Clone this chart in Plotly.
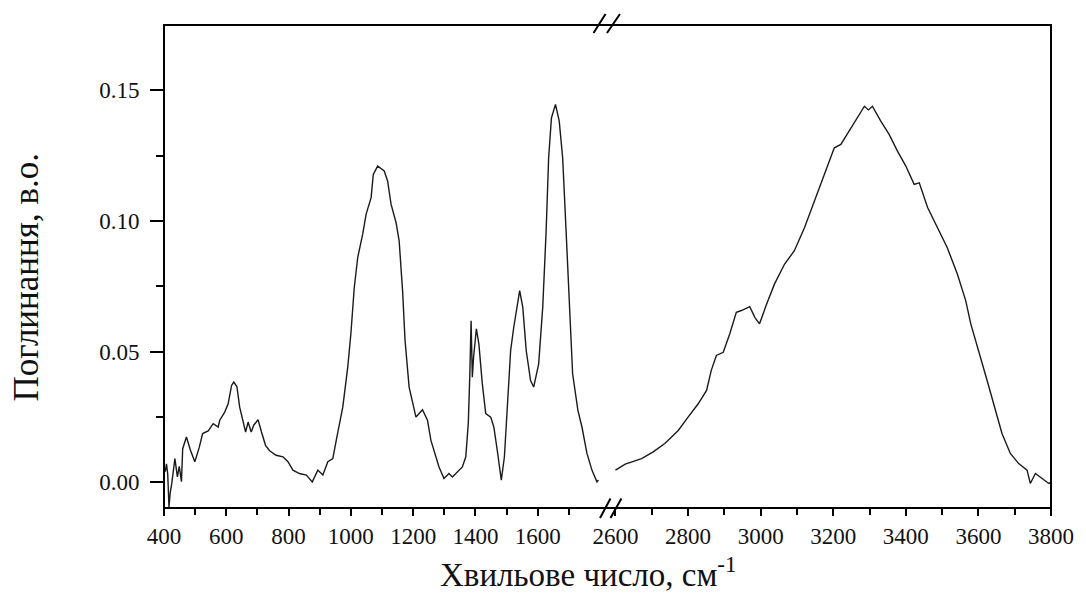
import plotly.graph_objects as go

# ---- data ----
wn_low = [400, 404, 408, 412, 416, 420, 425, 430, 435, 443, 449, 456, 460, 472, 485, 499,
          513, 524, 542, 558, 574, 579, 595, 606, 617, 624, 634, 643, 654, 662, 670, 680,
          688, 702, 713, 726, 739, 760, 782, 798, 814, 835, 857, 876, 894, 910, 926, 942,
          953, 974, 990, 1000, 1011, 1022, 1038, 1049, 1065, 1072, 1086, 1107, 1118, 1129,
          1145, 1155, 1166, 1174, 1187, 1209, 1230, 1246, 1257, 1283, 1299, 1315, 1326,
          1342, 1358, 1369, 1377, 1382, 1386, 1390, 1394, 1403, 1411, 1422, 1433, 1449,
          1459, 1470, 1483, 1493, 1502, 1513, 1523, 1534, 1542, 1552, 1563, 1577, 1587,
          1603, 1616, 1627, 1635, 1644, 1657, 1669, 1680, 1691, 1701, 1712, 1729, 1742,
          1758, 1774, 1790, 1795]
abs_low = [0.006, 0.004, 0.007, 0.003, -0.0095, -0.004, -0.0005, 0.004, 0.009, 0.002, 0.006,
           0.0002, 0.0128, 0.0173, 0.0122, 0.0078, 0.0132, 0.0186, 0.0196, 0.0224, 0.0211,
           0.0237, 0.0268, 0.030, 0.037, 0.0383, 0.0366, 0.0287, 0.0237, 0.0192, 0.023,
           0.0192, 0.0218, 0.0239, 0.0192, 0.0141, 0.012, 0.0103, 0.0097, 0.0078, 0.0046,
           0.0033, 0.0027, 0.0001, 0.0046, 0.0027, 0.0078, 0.009, 0.016, 0.0287, 0.044,
           0.0568, 0.0746, 0.086, 0.0949, 0.1026, 0.1089, 0.1178, 0.121, 0.1191, 0.1153,
           0.1064, 0.0994, 0.0924, 0.0733, 0.0542, 0.0364, 0.0249, 0.0277, 0.0237, 0.016,
           0.0058, 0.0014, 0.0033, 0.002, 0.0039, 0.0058, 0.0097, 0.0224, 0.0415, 0.0618,
           0.0402, 0.0478, 0.0587, 0.0529, 0.0377, 0.0262, 0.0249, 0.0211, 0.0122, 0.0008,
           0.0097, 0.0287, 0.0504, 0.0593, 0.0669, 0.0733, 0.0669, 0.0504, 0.0389, 0.0364,
           0.0453, 0.0669, 0.0962, 0.1242, 0.1394, 0.1446, 0.1382, 0.1242, 0.0962, 0.0669,
           0.0415, 0.0275, 0.0211, 0.011, 0.0046, 0.0001, 0.0008]

wn_high = [2600, 2627, 2672, 2704, 2736, 2773, 2800, 2828, 2851, 2864, 2878, 2897, 2915,
           2933, 2947, 2970, 2984, 2997, 3015, 3038, 3066, 3093, 3121, 3148, 3176, 3203,
           3221, 3244, 3267, 3286, 3297, 3308, 3331, 3354, 3377, 3400, 3423, 3437, 3460,
           3487, 3514, 3542, 3565, 3579, 3601, 3624, 3647, 3665, 3688, 3711, 3734, 3743,
           3757, 3775, 3794, 3800]
abs_high = [0.0046, 0.0069, 0.009, 0.0116, 0.0148, 0.0198, 0.0249, 0.030, 0.0351, 0.0428,
            0.0485, 0.0497, 0.0568, 0.065, 0.0657, 0.0672, 0.0631, 0.0606, 0.0676, 0.0758,
            0.0835, 0.0886, 0.0975, 0.1076, 0.1184, 0.128, 0.1293, 0.1344, 0.1394, 0.1439,
            0.1425, 0.1439, 0.1382, 0.1331, 0.1267, 0.121, 0.114, 0.1146, 0.1051, 0.0975,
            0.0898, 0.0797, 0.0695, 0.0606, 0.0504, 0.0389, 0.0275, 0.0186, 0.011, 0.0071,
            0.0046, -0.0005, 0.0033, 0.0014, -0.0005, 0.0]

ticks_low = [400, 600, 800, 1000, 1200, 1400, 1600]
minor_low = [500, 700, 900, 1100, 1300, 1500, 1700]
ticks_high = [2600, 2800, 3000, 3200, 3400, 3600, 3800]
minor_high = [2700, 2900, 3100, 3300, 3500, 3700]
y_ticks = [0.0, 0.05, 0.10, 0.15]
y_labels = ["0.00", "0.05", "0.10", "0.15"]
y_minor = [0.025, 0.075, 0.125]

x_title = "Хвильове число, см<sup>-1</sup>"
y_title = "Поглинання, в.о."

# ---- layout geometry ----
W, H = 1086, 594
L, R, T, B = 164, 1054, 25, 508
PW, PH = R - L, B - T
FONT = "Liberation Serif"


def px(x):
    return (x - L) / PW


def py(y):
    return (B - y) / PH


line_style = dict(color="#1a1a1a", width=1.4)

fig = go.Figure()
fig.add_trace(go.Scatter(x=wn_low, y=abs_low, mode="lines", line=line_style,
                         xaxis="x", yaxis="y", showlegend=False, hoverinfo="skip"))
fig.add_trace(go.Scatter(x=wn_high, y=abs_high, mode="lines", line=line_style,
                         xaxis="x2", yaxis="y", showlegend=False, hoverinfo="skip"))

xcommon = dict(showgrid=False, zeroline=False, showline=False, ticks="outside",
               ticklen=7, tickwidth=1.5, tickcolor="black",
               tickfont=dict(family=FONT, size=23, color="#111"), anchor="y")

fig.update_layout(
    width=W, height=H,
    margin=dict(l=L, r=W - R, t=T, b=H - B),
    paper_bgcolor="white", plot_bgcolor="white",
    xaxis=dict(range=[400, 1800], domain=[0, px(601.5)],
               tickmode="array", tickvals=ticks_low,
               ticktext=[str(v) for v in ticks_low],
               minor=dict(tickmode="array", tickvals=minor_low, ticks="outside",
                          ticklen=6, tickwidth=1.5, tickcolor="black"),
               **xcommon),
    xaxis2=dict(range=[2580, 3800], domain=[px(609.7), 1],
                tickmode="array", tickvals=ticks_high,
                ticktext=[str(v) for v in ticks_high],
                minor=dict(tickmode="array", tickvals=minor_high, ticks="outside",
                           ticklen=6, tickwidth=1.5, tickcolor="black"),
                **xcommon),
    yaxis=dict(range=[-0.0099, 0.175], showgrid=False, zeroline=False, showline=False,
               tickmode="array", tickvals=y_ticks, ticktext=y_labels,
               ticks="outside", ticklen=13, tickwidth=1.5, tickcolor="black",
               ticklabelstandoff=6,
               tickfont=dict(family=FONT, size=23, color="#111"),
               minor=dict(tickmode="array", tickvals=y_minor, ticks="outside",
                          ticklen=7, tickwidth=1.5, tickcolor="black"),
               anchor="x"),
)

shapes = [
    dict(type="rect", xref="paper", yref="paper", x0=0, y0=0, x1=1, y1=1,
         line=dict(color="black", width=2)),
]
# axis-break marks (top and bottom)
for (x0, y0, x1, y1) in [(595, 33, 607, 14), (608.5, 33, 621.5, 14),
                         (601.5, 518, 612, 498.5), (612, 518, 623, 498.5)]:
    shapes.append(dict(type="line", xref="paper", yref="paper",
                       x0=px(x0), y0=py(y0), x1=px(x1), y1=py(y1),
                       line=dict(color="black", width=2)))
fig.update_layout(shapes=shapes)

fig.add_annotation(text=x_title, xref="paper", yref="paper", x=px(590), y=py(572),
                   xanchor="center", yanchor="middle", showarrow=False,
                   font=dict(family=FONT, size=33, color="#111"))
fig.add_annotation(text=y_title, xref="paper", yref="paper", x=px(26), y=py(277),
                   xanchor="center", yanchor="middle", showarrow=False, textangle=-90,
                   font=dict(family=FONT, size=35, color="#111"))

fig.write_html("out.html")
